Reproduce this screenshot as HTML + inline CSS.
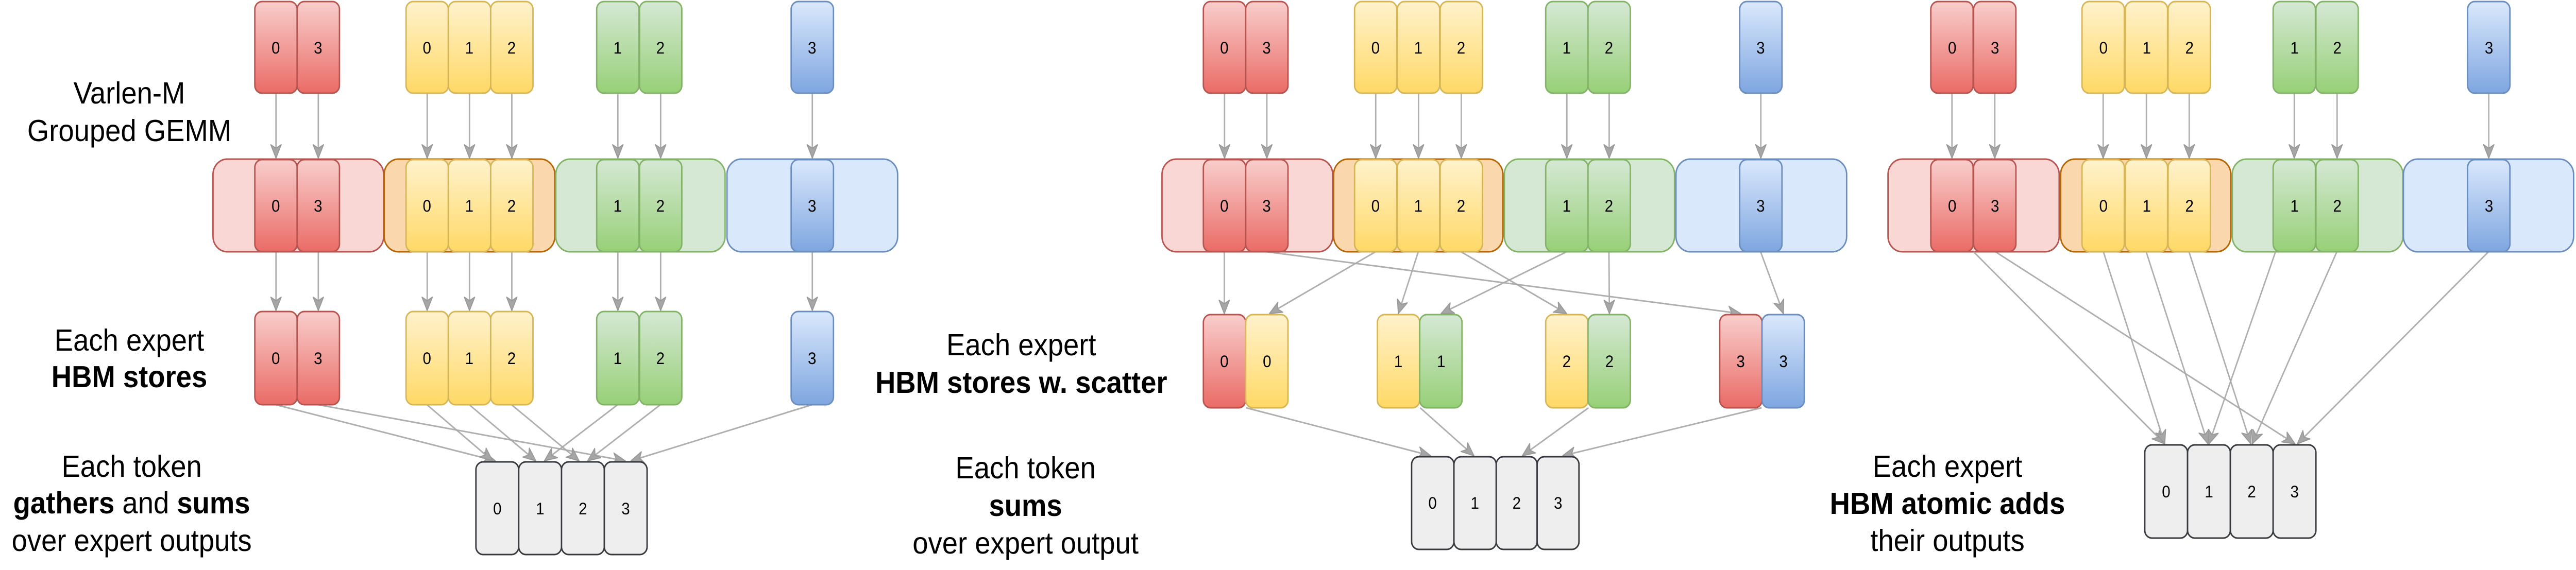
<!DOCTYPE html>
<html><head><meta charset="utf-8"><style>
html,body{margin:0;padding:0;background:#fff;overflow:hidden;}
svg{display:block;width:100vw;height:100vh;}
text{font-family:"Liberation Sans",Arial,sans-serif;}
</style></head><body>
<svg id="s" viewBox="0 0 5418 1107" preserveAspectRatio="none" xmlns="http://www.w3.org/2000/svg" overflow="hidden">
<defs>
<linearGradient id="gr" x1="0" y1="0" x2="0" y2="1"><stop offset="0" stop-color="#f8cecc"/><stop offset="1" stop-color="#ea6b66"/></linearGradient>
<linearGradient id="gy" x1="0" y1="0" x2="0" y2="1"><stop offset="0" stop-color="#fff2cc"/><stop offset="1" stop-color="#ffd966"/></linearGradient>
<linearGradient id="gg" x1="0" y1="0" x2="0" y2="1"><stop offset="0" stop-color="#d5e8d4"/><stop offset="1" stop-color="#97d077"/></linearGradient>
<linearGradient id="gb" x1="0" y1="0" x2="0" y2="1"><stop offset="0" stop-color="#dae8fc"/><stop offset="1" stop-color="#7ea6e0"/></linearGradient>
<marker id="ah" markerUnits="userSpaceOnUse" markerWidth="30" markerHeight="30" viewBox="0 0 30 30" refX="28" refY="15" orient="auto">
<path d="M28,15 L2,4 L9,15 L2,26 Z" fill="#a6a6a6" stroke="#999" stroke-width="2" stroke-linejoin="round"/>
</marker>
</defs>
<g id="boxes"></g>
<g id="arrows" stroke="#a6a6a6" stroke-width="3" fill="none" stroke-opacity="0.9"></g>
<g id="cells"></g>
<g font-size="59" text-anchor="middle" fill="#000">
<text x="272" y="201">Varlen-M</text>
<text x="272" y="274">Grouped GEMM</text>
<text x="272" y="681">Each expert</text>
<text x="272" y="752" font-weight="bold">HBM stores</text>
<text x="277" y="926">Each token</text>
<text x="277" y="997"><tspan font-weight="bold">gathers</tspan> and <tspan font-weight="bold">sums</tspan></text>
<text x="277" y="1070">over expert outputs</text>
<text x="2148" y="690">Each expert</text>
<text x="2148" y="763" font-weight="bold">HBM stores w. scatter</text>
<text x="2157" y="929">Each token</text>
<text x="2157" y="1002" font-weight="bold">sums</text>
<text x="2157" y="1075">over expert output</text>
<text x="4096" y="926">Each expert</text>
<text x="4096" y="998" font-weight="bold">HBM atomic adds</text>
<text x="4096" y="1070">their outputs</text>
</g>
<g id="labels" font-size="32" text-anchor="middle" fill="#000">
<text x="580" y="104">0</text><text x="669" y="104">3</text>
<text x="898" y="104">0</text><text x="987" y="104">1</text><text x="1076" y="104">2</text>
<text x="1299" y="104">1</text><text x="1389" y="104">2</text>
<text x="1708" y="104">3</text>
<text x="580" y="411">0</text><text x="669" y="411">3</text>
<text x="898" y="411">0</text><text x="987" y="411">1</text><text x="1076" y="411">2</text>
<text x="1299" y="411">1</text><text x="1389" y="411">2</text>
<text x="1708" y="411">3</text>
<text x="580" y="707">0</text><text x="669" y="707">3</text>
<text x="898" y="707">0</text><text x="987" y="707">1</text><text x="1076" y="707">2</text>
<text x="1299" y="707">1</text><text x="1389" y="707">2</text>
<text x="1708" y="707">3</text>
<text x="1046" y="999">0</text><text x="1136" y="999">1</text><text x="1226" y="999">2</text><text x="1316" y="999">3</text>
<text x="2575" y="104">0</text><text x="2664" y="104">3</text>
<text x="2893" y="104">0</text><text x="2983" y="104">1</text><text x="3073" y="104">2</text>
<text x="3295" y="104">1</text><text x="3384" y="104">2</text>
<text x="3703" y="104">3</text>
<text x="2575" y="411">0</text><text x="2664" y="411">3</text>
<text x="2893" y="411">0</text><text x="2983" y="411">1</text><text x="3073" y="411">2</text>
<text x="3295" y="411">1</text><text x="3384" y="411">2</text>
<text x="3703" y="411">3</text>
<text x="2575" y="713">0</text><text x="2665" y="713">0</text>
<text x="2941" y="713">1</text><text x="3031" y="713">1</text>
<text x="3295" y="713">2</text><text x="3385" y="713">2</text>
<text x="3661" y="713">3</text><text x="3751" y="713">3</text>
<text x="3013" y="988">0</text><text x="3102" y="988">1</text><text x="3190" y="988">2</text><text x="3277" y="988">3</text>
<text x="4106" y="104">0</text><text x="4196" y="104">3</text>
<text x="4424" y="104">0</text><text x="4515" y="104">1</text><text x="4605" y="104">2</text>
<text x="4826" y="104">1</text><text x="4916" y="104">2</text>
<text x="5235" y="104">3</text>
<text x="4106" y="411">0</text><text x="4196" y="411">3</text>
<text x="4424" y="411">0</text><text x="4515" y="411">1</text><text x="4605" y="411">2</text>
<text x="4826" y="411">1</text><text x="4916" y="411">2</text>
<text x="5235" y="411">3</text>
<text x="4556" y="966">0</text><text x="4646" y="966">1</text><text x="4736" y="966">2</text><text x="4826" y="966">3</text>
</g>
</svg>
<script>
var NS="http://www.w3.org/2000/svg";
var S={r:["url(#gr)","#b85450"],y:["url(#gy)","#d6b656"],g:["url(#gg)","#82b366"],b:["url(#gb)","#6c8ebf"],o:["#eeeeee","#36393d"]};
var B={r:["#f8d7d4","#b85450"],y:["#fad7ac","#b46504"],g:["#d5e8d4","#82b366"],b:["#dae8fc","#6c8ebf"]};
function rect(g,x,y,w,h,f,s,r){var e=document.createElementNS(NS,"rect");e.setAttribute("x",x);e.setAttribute("y",y);e.setAttribute("width",w);e.setAttribute("height",h);e.setAttribute("rx",r);e.setAttribute("fill",f);e.setAttribute("stroke",s);e.setAttribute("stroke-width",3);document.getElementById(g).appendChild(e);}
function cell(x,y,c,w,h){rect("cells",x,y,w||89,h||178,S[c][0],S[c][1],15);}
function big(x,w,c){rect("boxes",x,309,w,180,B[c][0],B[c][1],30);}
function ar(x1,y1,x2,y2){var e=document.createElementNS(NS,"line");e.setAttribute("x1",x1);e.setAttribute("y1",y1);e.setAttribute("x2",x2);e.setAttribute("y2",y2);e.setAttribute("marker-end","url(#ah)");document.getElementById("arrows").appendChild(e);}
function panelTop(xs,cs,bx){
  for(var i=0;i<4;i++)big(bx[i][0],bx[i][1],"rygb"[i]);
  for(var i=0;i<xs.length;i++){cell(xs[i],3,cs[i]);cell(xs[i],310,cs[i],89,179);ar(xs[i]+44.5,181,xs[i]+44.5,307);}
}
var c1="rryyyggb";
var x1=[536,625,854,943,1032,1255,1345,1664];
panelTop(x1,c1,[[448,359],[808,359],[1169,356],[1529,359]]);
for(var i=0;i<8;i++){cell(x1[i],605,c1[i],89,181);ar(x1[i]+44.5,489,x1[i]+44.5,603);}
[1001,1091,1181,1271].forEach(function(x){cell(x,897,"o",90,180);});
ar(580,786,1042,895);ar(669,786,1315,895);ar(898,786,1036,895);ar(987,786,1127,895);
ar(1076,786,1218,895);ar(1299,786,1145,895);ar(1389,786,1236,895);ar(1708,786,1327,895);
var x2=[2531,2620,2849,2939,3029,3251,3340,3659];
panelTop(x2,c1,[[2444,359],[2805,356],[3164,358],[3525,359]]);
var r3=[[2531,"r"],[2620,"y"],[2897,"y"],[2986,"g"],[3251,"y"],[3340,"g"],[3617,"r"],[3706,"b"]];
r3.forEach(function(a){cell(a[0],611,a[1],89,181);});
ar(2575,489,2575,609);ar(2893,489,2670,609);ar(2983,489,2941,609);ar(3073,489,3295,609);
ar(3295,489,3031,609);ar(3384,489,3385,609);ar(2664,489,3661,609);ar(3703,489,3751,609);
[[2969,89],[3058,89],[3147,86],[3233,88]].forEach(function(a){cell(a[0],887,"o",a[1],180);});
ar(2621,792,3009,885);ar(2987,792,3100,885);ar(3341,792,3202,885);ar(3705,792,3287,885);
var x3=[4061,4151,4379,4470,4560,4781,4871,5190];
panelTop(x3,c1,[[3971,360],[4334,358],[4695,359],[5055,358]]);
[4511,4601,4691,4781].forEach(function(x){cell(x,864,"o",90,181);});
ar(4151,489,4553,862);ar(4197,489,4827,862);ar(4424,489,4553,862);ar(4514,489,4644,862);
ar(4604,489,4734,862);ar(4786,489,4646,862);ar(4915,489,4737,862);ar(5234,489,4832,862);
</script>
</body></html>
